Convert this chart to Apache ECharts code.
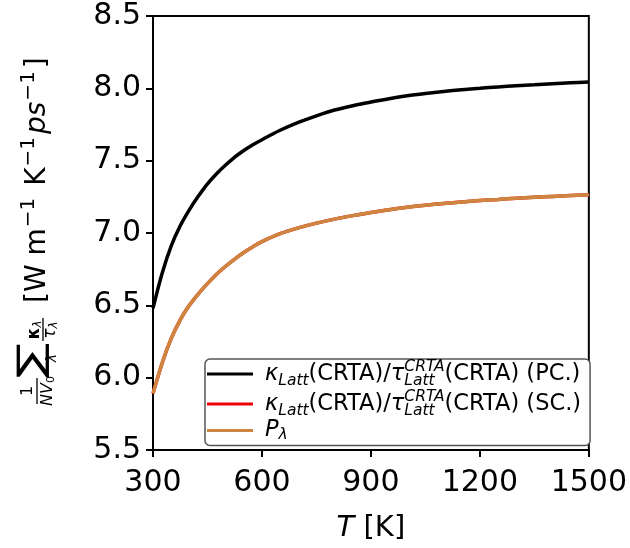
<!DOCTYPE html>
<html>
<head>
<meta charset="utf-8">
<script src="https://cdn.jsdelivr.net/npm/echarts@6/dist/echarts.min.js"></script>
<style>
  html, body { margin: 0; padding: 0; background: #fff; }
  #chart { width: 630px; height: 548px; }
</style>
</head>
<body>
<div id="chart"></div>
<script>
// Temperature grid (K)
const temperature = [300, 325, 350, 375, 400, 425, 450, 475, 500, 525, 550, 575, 600,
  650, 700, 750, 800, 850, 900, 950, 1000, 1050, 1100, 1150, 1200, 1250, 1300, 1350, 1400, 1450, 1500];
// kappa_Latt(CRTA)/tau_Latt(CRTA), primitive cell
const ratioPC = [6.48, 6.72, 6.91, 7.05, 7.16, 7.255, 7.34, 7.41, 7.47, 7.525, 7.57, 7.61, 7.645,
  7.71, 7.765, 7.81, 7.85, 7.88, 7.905, 7.928, 7.948, 7.964, 7.978, 7.99, 8.0, 8.01, 8.018, 8.025, 8.032, 8.038, 8.044];
// kappa_Latt(CRTA)/tau_Latt(CRTA), supercell
const ratioSC = [5.89, 6.10, 6.27, 6.40, 6.50, 6.58, 6.65, 6.715, 6.77, 6.82, 6.865, 6.905, 6.94,
  6.995, 7.035, 7.068, 7.096, 7.12, 7.142, 7.161, 7.178, 7.192, 7.204, 7.215, 7.224, 7.232, 7.24, 7.247, 7.253, 7.259, 7.265];
// P_lambda
const pLambda = [5.89, 6.10, 6.27, 6.40, 6.50, 6.58, 6.65, 6.715, 6.77, 6.82, 6.865, 6.905, 6.94,
  6.995, 7.035, 7.068, 7.096, 7.12, 7.142, 7.161, 7.178, 7.192, 7.204, 7.215, 7.224, 7.232, 7.24, 7.247, 7.253, 7.259, 7.265];

const xTicks = [300, 600, 900, 1200, 1500];
const yTicks = [5.5, 6.0, 6.5, 7.0, 7.5, 8.0, 8.5];

const seriesNames = ['PC', 'SC', 'P'];
const legendText = {
  PC: '{g0|κ}{s|Latt}{m|(CRTA)/}{g|τ}{z|Latt}{p|CRTA}{m|(CRTA) (PC.)}',
  SC: '{g0|κ}{s|Latt}{m|(CRTA)/}{g|τ}{z|Latt}{p|CRTA}{m|(CRTA) (SC.)}',
  P: '{i0|P}{s3|λ}'
};

const FONT = 'DejaVu Sans';
const pairs = (ys) => temperature.map((t, i) => [t, ys[i]]);

const chart = echarts.init(document.getElementById('chart'), null, { renderer: 'canvas' });

const axisCommon = {
  axisLine: { show: true, lineStyle: { color: '#000', width: 2 } },
  axisTick: { show: true, inside: false, length: 7, lineStyle: { color: '#000', width: 2 } },
  splitLine: { show: false }
};

// rotated y-axis title built from text pieces (local x runs bottom-to-top)
const yTitle = {
  type: 'group',
  x: 47, y: 405,
  rotation: Math.PI / 2,
  silent: true,
  children: [
    { type: 'text', style: { text: '1', x: 14, y: -19, align: 'center', verticalAlign: 'middle', font: '16px "DejaVu Sans"', fill: '#000' } },
    { type: 'line', shape: { x1: 1, y1: -10, x2: 27, y2: -10 }, style: { stroke: '#000', lineWidth: 1.3 } },
    { type: 'text', style: { text: '{i|NV}{s|0}', x: 14, y: 1, align: 'center', verticalAlign: 'middle', fill: '#000',
        rich: { i: { fontFamily: FONT, fontSize: 16, fontStyle: 'italic', lineHeight: 18, verticalAlign: 'middle' },
                s: { fontFamily: FONT, fontSize: 11, lineHeight: 18, verticalAlign: 'bottom' } } } },
    { type: 'text', x: 44.5, y: -14, scaleY: 0.68,
      style: { text: '∑', x: 0, y: 0, align: 'center', verticalAlign: 'middle', font: '52px "DejaVu Sans"', fill: '#000' } },
    { type: 'text', style: { text: 'λ', x: 47, y: 5, align: 'center', verticalAlign: 'middle', font: 'italic 14px "DejaVu Sans"', fill: '#000' } },
    { type: 'text', style: { text: '{k|κ}{s|λ}', x: 75, y: -12, align: 'center', verticalAlign: 'middle', fill: '#000',
        rich: { k: { fontFamily: FONT, fontSize: 17, fontWeight: 'bold', lineHeight: 18, verticalAlign: 'middle' },
                s: { fontFamily: FONT, fontSize: 12, fontStyle: 'italic', lineHeight: 18, verticalAlign: 'bottom' } } } },
    { type: 'line', shape: { x1: 64, y1: -4, x2: 87, y2: -4 }, style: { stroke: '#000', lineWidth: 1.3 } },
    { type: 'text', style: { text: '{k|τ}{s|λ}', x: 75, y: 4, align: 'center', verticalAlign: 'middle', fill: '#000',
        rich: { k: { fontFamily: FONT, fontSize: 17, fontStyle: 'italic', lineHeight: 18, verticalAlign: 'middle' },
                s: { fontFamily: FONT, fontSize: 12, fontStyle: 'italic', lineHeight: 18, verticalAlign: 'bottom' } } } },
    { type: 'text', style: { text: '{b|[W m}{u|−1}{b| K}{u|−1}{it|ps}{u|−1}{b|]}', x: 102, y: -9, align: 'left', verticalAlign: 'middle', fill: '#000',
        rich: { b: { fontFamily: FONT, fontSize: 28, lineHeight: 38, verticalAlign: 'middle' },
                it: { fontFamily: FONT, fontSize: 28, fontStyle: 'italic', lineHeight: 38, verticalAlign: 'middle' },
                u: { fontFamily: FONT, fontSize: 20, lineHeight: 38, verticalAlign: 'top', padding: [0, 3, 0, 1] } } } }
  ]
};

const option = {
  animation: false,
  backgroundColor: '#fff',
  grid: { left: 153, right: 37, top: 16, bottom: 93, show: true, borderColor: '#000', borderWidth: 2, backgroundColor: 'transparent' },
  xAxis: Object.assign({
    type: 'value', min: xTicks[0], max: xTicks[xTicks.length - 1], interval: 300,
    name: '{it|T} [K]', nameLocation: 'middle', nameGap: 64,
    nameTextStyle: { fontFamily: FONT, fontSize: 29, color: '#000', rich: { it: { fontFamily: FONT, fontSize: 29, fontStyle: 'italic', color: '#000' } } },
    axisLabel: { fontFamily: FONT, fontSize: 30, color: '#000', margin: 18, formatter: v => String(v) }
  }, axisCommon),
  yAxis: Object.assign({
    type: 'value', min: yTicks[0], max: yTicks[yTicks.length - 1], interval: 0.5,
    axisLabel: { fontFamily: FONT, fontSize: 30, color: '#000', margin: 12, formatter: v => v.toFixed(1) }
  }, axisCommon),
  legend: {
    orient: 'vertical', left: 205, top: 359,
    data: seriesNames,
    icon: 'rect', itemWidth: 46, itemHeight: 3, itemGap: 0,
    padding: [0, 9, 3, 2],
    backgroundColor: '#fff', borderColor: '#555', borderWidth: 1.5, borderRadius: 5,
    formatter: name => legendText[name],
    textStyle: {
      fontFamily: FONT, fontSize: 22.5, color: '#000',
      rich: {
        g0: { fontFamily: FONT, fontSize: 22.5, fontStyle: 'italic', lineHeight: 30, padding: [0, 0, 0, 7], verticalAlign: 'middle' },
        g: { fontFamily: FONT, fontSize: 22.5, fontStyle: 'italic', lineHeight: 30, verticalAlign: 'middle' },
        m: { fontFamily: FONT, fontSize: 22.5, lineHeight: 30, verticalAlign: 'middle' },
        s: { fontFamily: FONT, fontSize: 15.5, fontStyle: 'italic', lineHeight: 30, verticalAlign: 'bottom' },
        z: { fontFamily: FONT, fontSize: 15.5, fontStyle: 'italic', lineHeight: 30, verticalAlign: 'bottom', width: 0 },
        p: { fontFamily: FONT, fontSize: 15.5, fontStyle: 'italic', lineHeight: 30, verticalAlign: 'top' },
        i0: { fontFamily: FONT, fontSize: 22.5, fontStyle: 'italic', lineHeight: 24, padding: [0, 0, 0, 7], verticalAlign: 'middle' },
        s3: { fontFamily: FONT, fontSize: 15.5, fontStyle: 'italic', lineHeight: 24, verticalAlign: 'bottom' }
      }
    }
  },
  graphic: [yTitle],
  series: [
    { name: 'PC', type: 'line', data: pairs(ratioPC), showSymbol: false, smooth: 0.3, lineStyle: { color: '#000000', width: 3.5 }, itemStyle: { color: '#000000' }, z: 4 },
    { name: 'SC', type: 'line', data: pairs(ratioSC), showSymbol: false, smooth: 0.3, lineStyle: { color: '#ee0000', width: 3.5 }, itemStyle: { color: '#ee0000' }, z: 2 },
    { name: 'P', type: 'line', data: pairs(pLambda), showSymbol: false, smooth: 0.3, lineStyle: { color: '#cd853f', width: 3.5 }, itemStyle: { color: '#cd853f' }, z: 3 }
  ]
};

chart.setOption(option);
</script>
</body>
</html>
